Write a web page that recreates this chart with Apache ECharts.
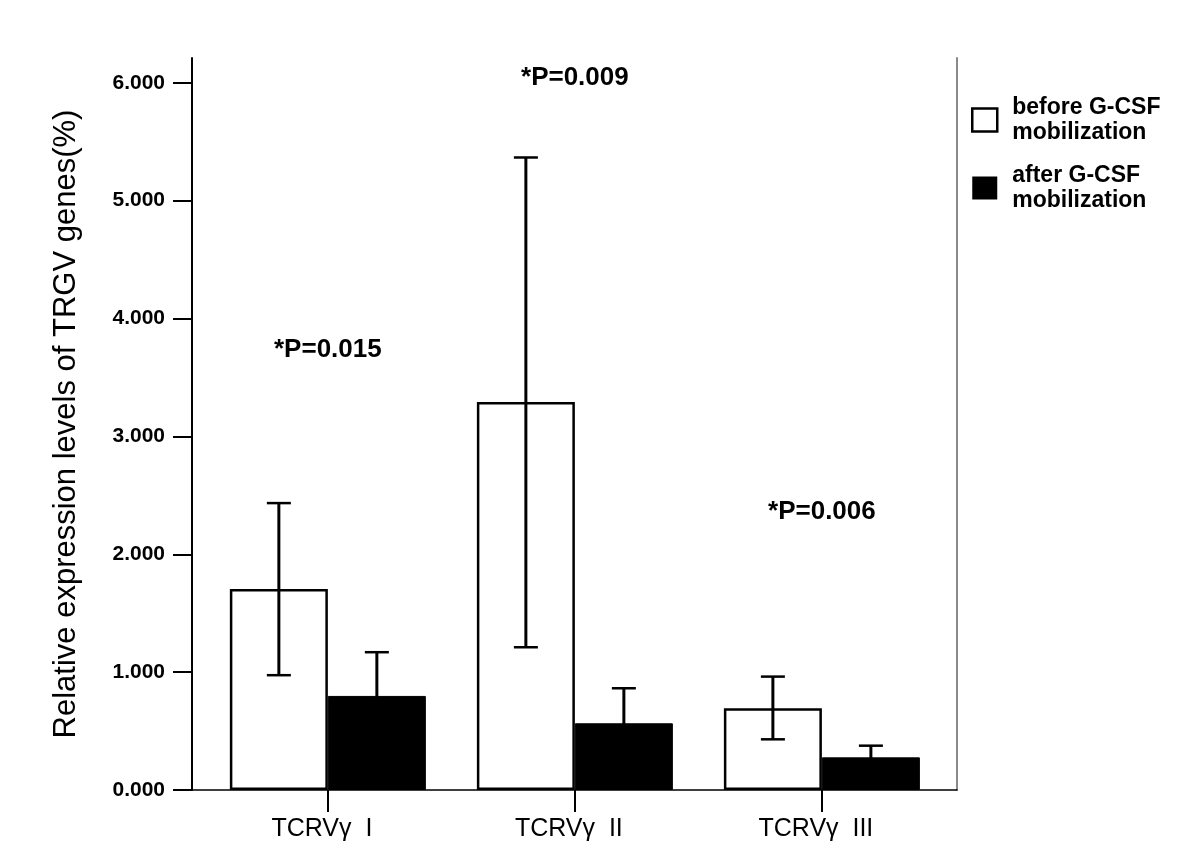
<!DOCTYPE html>
<html>
<head>
<meta charset="utf-8">
<script src="https://cdn.jsdelivr.net/npm/echarts@6/dist/echarts.min.js"></script>
<style>
html,body{margin:0;padding:0;background:#fff;}
#chart{width:1200px;height:868px;}
</style>
</head>
<body>
<div id="chart"></div>
<script>
// ---- data ----
const categories = ['TCRVγ  I', 'TCRVγ  II', 'TCRVγ  III'];
const categoryPos = [1, 2, 3];
const seriesNames = ['before G-CSF\nmobilization', 'after G-CSF\nmobilization'];
const beforeMean = [1.706, 3.292, 0.693];
const beforeLow  = [0.974, 1.211, 0.430];
const beforeHigh = [2.434, 5.366, 0.962];
const afterMean  = [0.798, 0.566, 0.277];
const afterLow   = [0.427, 0.269, 0.178];
const afterHigh  = [1.169, 0.863, 0.376];
const pLabels    = ['*P=0.015', '*P=0.009', '*P=0.006'];
const pLabelY    = [3.736, 6.045, 2.36];
const yTicks     = [0, 1, 2, 3, 4, 5, 6];
const yAxisName  = 'Relative expression levels of TRGV genes(%)';

// ---- style ----
const FONT = '"Liberation Sans", Arial, Helvetica, sans-serif';
const BAR_WIDTH = 98;
const CAP = 12;

const chart = echarts.init(document.getElementById('chart'));

function errRender(offset) {
  return function (params, api) {
    const x = api.value(0), lo = api.value(1), hi = api.value(2);
    const t = api.coord([x, hi]);
    const b = api.coord([x, lo]);
    const cx = t[0] + offset;
    const st = {stroke: '#000', lineWidth: 3};
    const cs = {stroke: '#000', lineWidth: 2.5};
    return {
      type: 'group',
      children: [
        {type: 'line', shape: {x1: cx, y1: t[1], x2: cx, y2: b[1]}, style: st},
        {type: 'line', shape: {x1: cx - CAP, y1: t[1], x2: cx + CAP, y2: t[1]}, style: cs},
        {type: 'line', shape: {x1: cx - CAP, y1: b[1], x2: cx + CAP, y2: b[1]}, style: cs}
      ]
    };
  };
}

const option = {
  backgroundColor: '#fff',
  animation: false,
  textStyle: {fontFamily: FONT},
  grid: {left: 192, right: 243, top: 58, bottom: 78, containLabel: false},
  legend: {
    orient: 'vertical',
    left: 966,
    top: 90,
    itemWidth: 25,
    itemHeight: 23,
    itemGap: 18,
    selectedMode: false,
    textStyle: {fontFamily: FONT, fontWeight: 'bold', fontSize: 23, color: '#000', lineHeight: 25, padding: [0, 0, 0, 10]},
    data: [
      {name: seriesNames[0], icon: 'rect', itemStyle: {color: '#fff', borderColor: '#000', borderWidth: 2.5}},
      {name: seriesNames[1], icon: 'rect', itemStyle: {color: '#000', borderColor: '#000', borderWidth: 0}}
    ]
  },
  xAxis: {
    type: 'value',
    min: 0.45,
    max: 3.547,
    splitLine: {show: false},
    axisLine: {show: true, onZero: false, lineStyle: {color: '#000', width: 1.5}},
    axisTick: {show: true, length: 22, customValues: categoryPos, lineStyle: {color: '#000', width: 2}},
    axisLabel: {
      customValues: categoryPos,
      margin: 27,
      fontFamily: FONT,
      fontSize: 25,
      color: '#000',
      padding: [0, 12, 0, 0],
      formatter: function (v) { return categories[categoryPos.indexOf(Math.round(v))] || ''; }
    }
  },
  yAxis: [
    {
      type: 'value',
      min: 0,
      max: 6.21,
      position: 'left',
      name: yAxisName,
      nameLocation: 'middle',
      nameGap: 110,
      nameRotate: 90,
      nameTextStyle: {fontFamily: FONT, fontSize: 31, color: '#000'},
      splitLine: {show: false},
      axisLine: {show: true, lineStyle: {color: '#000', width: 2}},
      axisTick: {show: true, length: 19, customValues: yTicks, lineStyle: {color: '#000', width: 2}},
      axisLabel: {
        customValues: yTicks,
        margin: 27,
        fontFamily: FONT,
        fontWeight: 'bold',
        fontSize: 21,
        color: '#000',
        formatter: function (v) { return v.toFixed(3); }
      }
    },
    {
      type: 'value',
      min: 0,
      max: 6.21,
      position: 'right',
      splitLine: {show: false},
      axisLine: {show: true, lineStyle: {color: '#8a8a8a', width: 2}},
      axisTick: {show: false},
      axisLabel: {show: false}
    }
  ],
  series: [
    {
      name: seriesNames[0],
      type: 'bar',
      barWidth: BAR_WIDTH,
      barGap: '0%',
      itemStyle: {color: '#fff', borderColor: '#000', borderWidth: 2.5},
      data: categoryPos.map((x, i) => [x, beforeMean[i]]),
      z: 2
    },
    {
      name: seriesNames[1],
      type: 'bar',
      barWidth: BAR_WIDTH,
      barGap: '0%',
      itemStyle: {color: '#000', borderColor: '#000', borderWidth: 1},
      data: categoryPos.map((x, i) => [x, afterMean[i]]),
      z: 2
    },
    {
      name: 'err-before',
      type: 'custom',
      renderItem: errRender(-BAR_WIDTH / 2),
      encode: {x: 0, y: [1, 2]},
      data: categoryPos.map((x, i) => [x, beforeLow[i], beforeHigh[i]]),
      z: 5
    },
    {
      name: 'err-after',
      type: 'custom',
      renderItem: errRender(BAR_WIDTH / 2),
      encode: {x: 0, y: [1, 2]},
      data: categoryPos.map((x, i) => [x, afterLow[i], afterHigh[i]]),
      z: 5
    },
    {
      name: 'p-values',
      type: 'scatter',
      symbolSize: 0,
      silent: true,
      itemStyle: {opacity: 1, color: '#000'},
      label: {
        show: true,
        position: 'inside',
        fontFamily: FONT,
        fontWeight: 'bold',
        fontSize: 26,
        color: '#000',
        opacity: 1,
        formatter: function (p) { return pLabels[p.dataIndex]; }
      },
      data: categoryPos.map((x, i) => [x, pLabelY[i]]),
      z: 6
    }
  ]
};
chart.setOption(option);
</script>
</body>
</html>
